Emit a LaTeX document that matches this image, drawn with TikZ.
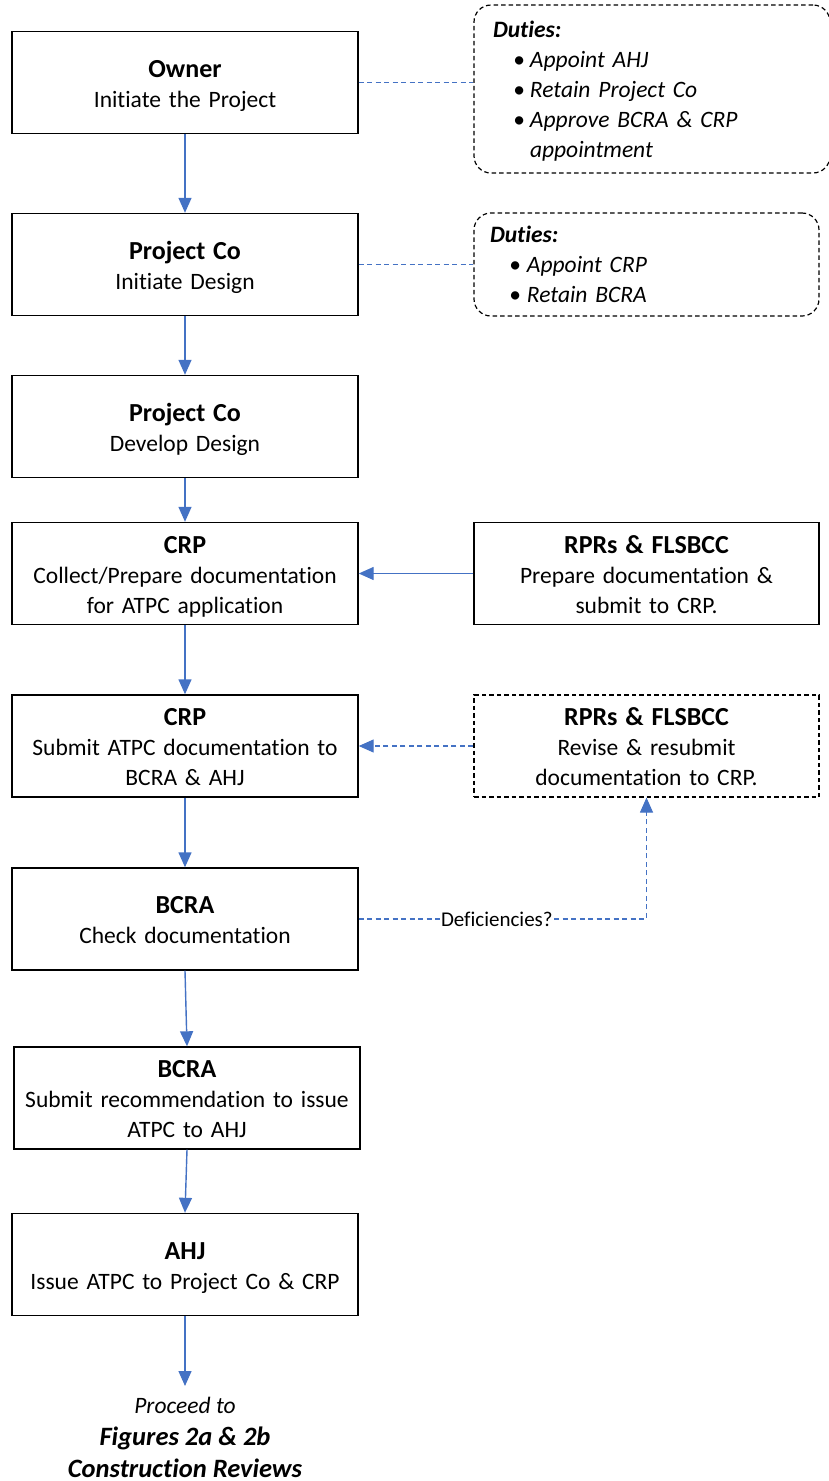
\documentclass[tikz,border=0pt]{standalone}
\usepackage{fontspec}
\setmainfont{Carlito}[Ligatures=NoCommon]
\usetikzlibrary{arrows.meta}
\definecolor{flowblue}{HTML}{4472C4}
\hyphenpenalty=10000
\exhyphenpenalty=10000

% bold heading line of a step box
\newcommand{\steptitle}[1]{{\fontsize{26}{30}\selectfont\bfseries #1}}
% one bullet line of a duties list
\newcommand{\dutyitem}[2][19pt]{\makebox[37pt][l]{\hspace{#1}•}#2}

\begin{document}
\begin{tikzpicture}[x=1pt,y=-1pt,
  stepbox/.style={draw=black, line width=1.4pt, minimum width=346pt,
    minimum height=102pt, text width=342pt, align=center, inner sep=0pt,
    text height=21pt, text depth=32pt,
    font=\fontsize{23.5}{30}\selectfont},
  threelines/.style={text depth=62pt},
  notebox/.style={stepbox, dash pattern=on 4.5pt off 3pt, line width=1.2pt},
  dutybox/.style={draw=black, line width=1.2pt, dash pattern=on 4.5pt off 3pt,
    rounded corners=17pt, inner sep=0pt, align=left, text height=21pt,
    font=\fontsize{23.5}{30}\selectfont\itshape},
  tip/.style={-{Triangle[width=13pt,length=15pt]}},
  flow/.style={draw=flowblue, line width=1.4pt, tip},
  link/.style={draw=flowblue, line width=1.2pt, dash pattern=on 5pt off 3.5pt},
]
\useasboundingbox (0,0) rectangle (829,1481);

% main column
\node[stepbox] (owner) at (185,82.5) {\steptitle{Owner}\\Initiate the Project};
\node[stepbox] (pcinit) at (185,264.5) {\steptitle{Project Co}\\Initiate Design};
\node[stepbox] (pcdev) at (185,426.5) {\steptitle{Project Co}\\Develop Design};
\node[stepbox, threelines] (crpcollect) at (185,573.5) {\steptitle{CRP}\\Collect/Prepare documentation\\for ATPC application};
\node[stepbox, threelines] (crpsubmit) at (185,746) {\steptitle{CRP}\\Submit ATPC documentation to\\BCRA \& AHJ};
\node[stepbox] (bcracheck) at (185,919) {\steptitle{BCRA}\\Check documentation};
\node[stepbox, threelines] (bcrarec) at (187,1098) {\steptitle{BCRA}\\Submit recommendation to issue\\ATPC to AHJ};
\node[stepbox] (ahj) at (185,1264.5) {\steptitle{AHJ}\\Issue ATPC to Project Co \& CRP};

% side column
\node[dutybox, text depth=125pt, minimum width=356pt, minimum height=168pt, text width=318pt] (dutyowner) at (652,89)
  {\textbf{Duties:}\\\dutyitem[20pt]{Appoint AHJ}\\\dutyitem[20pt]{Retain Project Co}\\\dutyitem[20pt]{Approve BCRA \& CRP}\\\hspace*{37pt}appointment};
\node[dutybox, text depth=65pt, minimum width=345pt, minimum height=103pt, text width=313pt] (dutypc) at (646.5,264.5)
  {\textbf{Duties:}\\\dutyitem{Appoint CRP}\\\dutyitem{Retain BCRA}};
\node[stepbox, threelines, minimum width=345pt, text width=340pt] (rprsprep) at (646.5,573.5) {\steptitle{RPRs \& FLSBCC}\\Prepare documentation \&\\submit to CRP.};
\node[notebox, threelines, minimum width=345pt, text width=340pt] (rprsrev) at (646.5,746) {\steptitle{RPRs \& FLSBCC}\\Revise \& resubmit\\documentation to CRP.};

% closing note
\coordinate (tonext) at (185,1386);
\node[anchor=base, inner sep=0pt, font=\fontsize{23.5}{30}\selectfont\itshape] (next1) at (185,1413) {Proceed to};
\node[anchor=base, inner sep=0pt, font=\fontsize{26.5}{31}\selectfont\bfseries\itshape] (next2) at (185,1445) {Figures 2a \& 2b};
\node[anchor=base, inner sep=0pt, font=\fontsize{26.5}{31}\selectfont\bfseries\itshape] (next3) at (185,1477) {Construction Reviews};

% connectors
\draw[flow] (owner) -- (pcinit);
\draw[flow] (pcinit) -- (pcdev);
\draw[flow] (pcdev) -- (crpcollect);
\draw[flow] (crpcollect) -- (crpsubmit);
\draw[flow] (crpsubmit) -- (bcracheck);
\draw[flow] (bcracheck.south) -- (bcrarec.north);
\draw[flow] (bcrarec.south) -- (ahj.north);
\draw[flow] (ahj.south) -- (tonext);
\draw[flow] (rprsprep) -- (crpcollect);
\draw[link, tip] (rprsrev) -- (crpsubmit);
\draw[link] (owner.east) -- (owner.east -| dutyowner.west);
\draw[link] (pcinit.east) -- (pcinit.east -| dutypc.west);
\draw[link, tip] (bcracheck.east)
  -- node[pos=0.48, fill=white, inner sep=1pt, font=\fontsize{21}{25}\selectfont] (deflabel) {Deficiencies?}
  (bcracheck.east -| rprsrev.south) -- (rprsrev.south);
\end{tikzpicture}
\end{document}
